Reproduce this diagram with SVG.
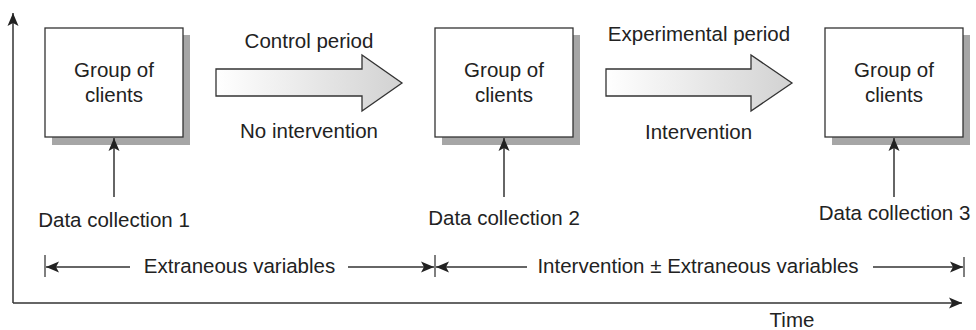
<svg xmlns="http://www.w3.org/2000/svg" width="976" height="330" viewBox="0 0 976 330">
<style>
text { font-family: "Liberation Sans", Arial, sans-serif; font-size: 20.5px; fill: #222; }
.mid { text-anchor: middle; }
.box { fill: #fff; stroke: #333; stroke-width: 1.3; }
.shadow { fill: #a6a6a6; }
.ln { stroke: #333; stroke-width: 1.5; fill: none; }
.tick { stroke: #555; stroke-width: 1.5; }
.blk { fill: url(#grad); stroke: #333; stroke-width: 1.3; }
</style>
<defs>
<linearGradient id="grad" x1="0" y1="0" x2="1" y2="0">
<stop offset="0" stop-color="#ffffff"/>
<stop offset="1" stop-color="#d2d2d2"/>
</linearGradient>
<marker id="ah" markerUnits="userSpaceOnUse" markerWidth="14" markerHeight="12" viewBox="0 0 14 12" refX="13" refY="6" orient="auto-start-reverse">
<path d="M0,0.5 L13,6 L0,11.5 L3,6 Z" fill="#222"/>
</marker>
</defs>
<g id="axes">
<line class="ln" x1="13" y1="303" x2="13" y2="13" marker-end="url(#ah)"/>
<line class="ln" x1="13" y1="303" x2="962" y2="303" marker-end="url(#ah)"/>
<text class="mid" x="792" y="327">Time</text>
</g>
<g id="group1">
<rect class="shadow" x="52" y="35" width="138" height="110"/>
<rect class="box" x="45" y="28" width="138" height="109"/>
<text class="mid" x="114" y="77">Group of</text>
<text class="mid" x="114" y="102">clients</text>
</g>
<g id="group2">
<rect class="shadow" x="442" y="35" width="138" height="110"/>
<rect class="box" x="435" y="28" width="138" height="109"/>
<text class="mid" x="504" y="77">Group of</text>
<text class="mid" x="504" y="102">clients</text>
</g>
<g id="group3">
<rect class="shadow" x="832" y="35" width="138" height="110"/>
<rect class="box" x="825" y="28" width="138" height="109"/>
<text class="mid" x="894" y="77">Group of</text>
<text class="mid" x="894" y="102">clients</text>
</g>
<g id="control-period">
<path class="blk" d="M216,69 H362 V55 L402,83 L362,111 V96 H216 Z"/>
<text class="mid" x="309" y="48">Control period</text>
<text class="mid" x="309" y="138">No intervention</text>
</g>
<g id="experimental-period">
<path class="blk" d="M606,69 H751 V55 L792,83 L751,111 V96 H606 Z"/>
<text class="mid" x="699" y="41">Experimental period</text>
<text class="mid" x="698.5" y="139">Intervention</text>
</g>
<g id="data1">
<text class="mid" x="114" y="227">Data collection 1</text>
</g>
<g id="data2">
<text class="mid" x="504" y="225">Data collection 2</text>
</g>
<g id="data3">
<text class="mid" x="894.5" y="220">Data collection 3</text>
</g>
<g id="connectors">
<line class="ln" x1="114" y1="197" x2="114" y2="138" marker-end="url(#ah)"/>
<line class="ln" x1="504" y1="197" x2="504" y2="138" marker-end="url(#ah)"/>
<line class="ln" x1="894" y1="197" x2="894" y2="138" marker-end="url(#ah)"/>
</g>
<g id="spans">
<line class="tick" x1="45" y1="255" x2="45" y2="277"/>
<line class="tick" x1="435" y1="255" x2="435" y2="277"/>
<line class="tick" x1="964" y1="257" x2="964" y2="277"/>
<line class="ln" x1="130" y1="267" x2="46" y2="267" marker-end="url(#ah)"/>
<line class="ln" x1="348" y1="267" x2="434" y2="267" marker-end="url(#ah)"/>
<line class="ln" x1="527" y1="267" x2="436" y2="267" marker-end="url(#ah)"/>
<line class="ln" x1="873" y1="267" x2="963" y2="267" marker-end="url(#ah)"/>
<text class="mid" x="239.5" y="273">Extraneous variables</text>
<text class="mid" x="698" y="273">Intervention ± Extraneous variables</text>
</g>
</svg>
